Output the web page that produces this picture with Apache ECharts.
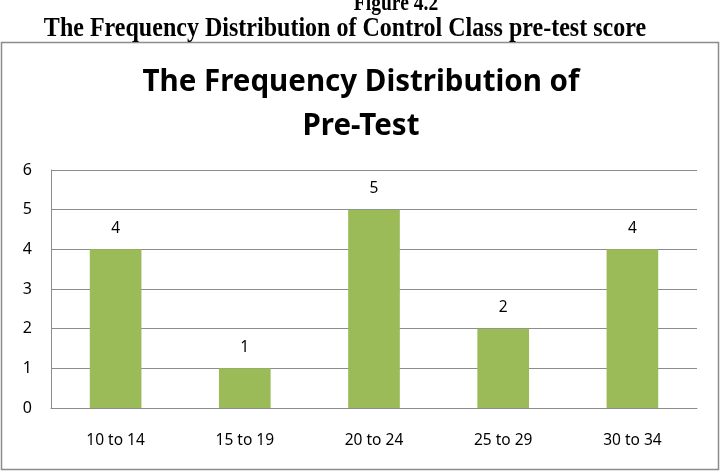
<!DOCTYPE html>
<html>
<head>
<meta charset="utf-8">
<script src="https://cdn.jsdelivr.net/npm/echarts@6/dist/echarts.min.js"></script>
<style>html,body{margin:0;padding:0;background:#fff}#c{width:725px;height:474px}</style>
</head>
<body>
<div id="c"></div>
<script>
const categories = ['10 to 14', '15 to 19', '20 to 24', '25 to 29', '30 to 34'];
const frequency = [4, 1, 5, 2, 4];
const yTicks = [0, 1, 2, 3, 4, 5, 6];

const chart = echarts.init(document.getElementById('c'), null, {renderer: 'canvas'});
chart.setOption({
  animation: false,
  backgroundColor: '#fff',
  title: {
    text: 'The Frequency Distribution of\nPre-Test',
    left: 356,
    top: 56,
    textAlign: 'center',
    textStyle: {
      fontFamily: 'Noto Sans',
      fontWeight: 'bold',
      fontSize: 29.5,
      lineHeight: 44,
      color: '#000'
    }
  },
  graphic: [
    {
      type: 'rect',
      shape: {x: 1.5, y: 42.5, width: 717, height: 427},
      style: {fill: 'none', stroke: '#8c8c8c', lineWidth: 1.5},
      silent: true, z: -1
    },
    {
      type: 'text',
      x: 396, y: 16,
      scaleX: 0.85,
      originX: 0,
      style: {
        text: 'Figure 4.2',
        font: 'bold 23px "Liberation Serif"',
        fill: '#000',
        textAlign: 'center',
        verticalAlign: 'bottom'
      }
    },
    {
      type: 'text',
      x: 345, y: 43,
      scaleX: 0.89,
      originX: 0,
      style: {
        text: 'The Frequency Distribution of Control Class pre-test score',
        font: 'bold 27px "Liberation Serif"',
        fill: '#000',
        textAlign: 'center',
        verticalAlign: 'bottom'
      }
    }
  ],
  grid: {left: 51, right: 28, top: 170, bottom: 66, containLabel: false},
  xAxis: {
    type: 'category',
    data: categories,
    axisTick: {show: false},
    axisLine: {lineStyle: {color: '#8c8c8c', width: 1}},
    axisLabel: {color: '#000', fontFamily: 'Noto Sans', fontSize: 15.5, margin: 25}
  },
  yAxis: {
    type: 'value',
    min: yTicks[0],
    max: yTicks[yTicks.length - 1],
    interval: 1,
    axisLine: {show: true, lineStyle: {color: '#8c8c8c', width: 1}},
    axisTick: {show: false},
    splitLine: {lineStyle: {color: '#8c8c8c', width: 1}},
    axisLabel: {color: '#000', fontFamily: 'Noto Sans', fontSize: 16, margin: 19}
  },
  series: [{
    type: 'bar',
    data: frequency,
    barWidth: '40%',
    itemStyle: {color: '#9bbb59'},
    label: {
      show: true,
      position: 'top',
      distance: 13,
      color: '#000',
      fontFamily: 'Noto Sans',
      fontSize: 15.5
    }
  }]
});
</script>
</body>
</html>
